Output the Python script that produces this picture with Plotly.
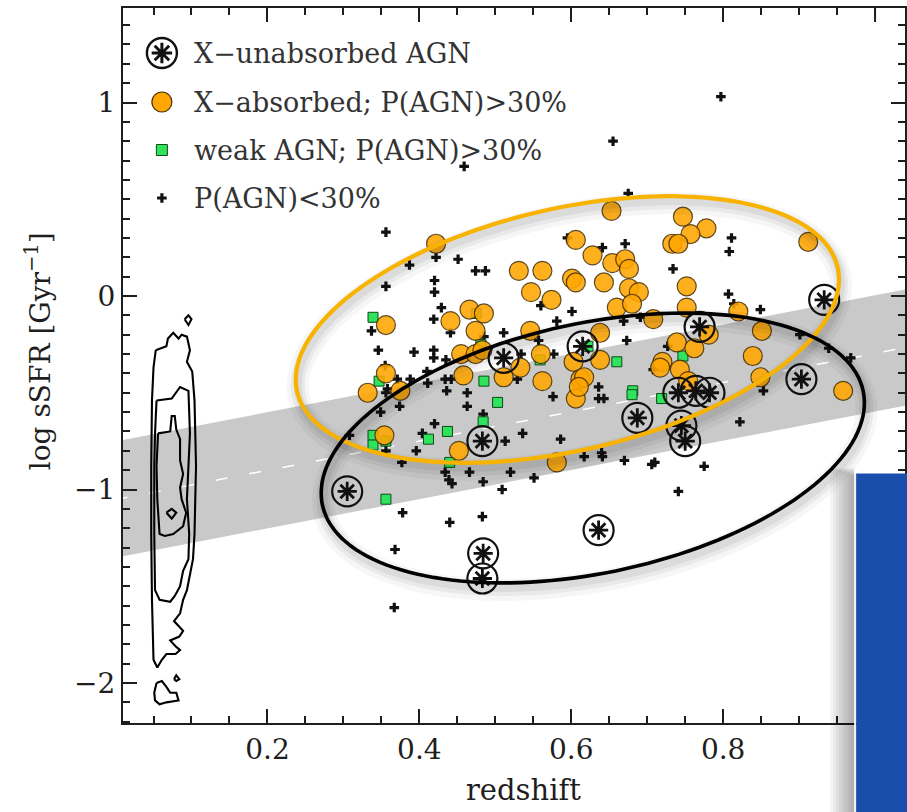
import numpy as np
import plotly.graph_objects as go

# ---------------- data ----------------
unabs_z = [0.933, 0.305, 0.484, 0.483, 0.636, 0.483, 0.511, 0.615, 0.769, 0.687,
           0.741, 0.764, 0.782, 0.745, 0.750, 0.903]
unabs_ssfr = [-0.02, -1.01, -1.33, -1.46, -1.21, -0.75, -0.32, -0.26, -0.16, -0.63,
              -0.50, -0.49, -0.50, -0.67, -0.75, -0.43]

abs_z = [0.422, 0.606, 0.628, 0.531, 0.562, 0.601, 0.606, 0.547, 0.574, 0.466,
         0.485, 0.441, 0.356, 0.474, 0.546, 0.455, 0.474, 0.483, 0.533, 0.511,
         0.562, 0.458, 0.603, 0.612, 0.606, 0.356, 0.332, 0.375, 0.560, 0.653,
         0.747, 0.778, 0.757, 0.733, 0.741, 0.912, 0.643, 0.654, 0.671, 0.676,
         0.676, 0.689, 0.752, 0.660, 0.680, 0.708, 0.752, 0.820, 0.851, 0.638,
         0.638, 0.739, 0.762, 0.781, 0.720, 0.717, 0.743, 0.839, 0.849, 0.958,
         0.617, 0.610, 0.354, 0.452, 0.581, 0.754]
abs_ssfr = [0.27, 0.29, 0.21, 0.13, 0.13, 0.09, 0.07, 0.02, -0.02, -0.07,
            -0.09, -0.13, -0.15, -0.18, -0.18, -0.30, -0.30, -0.28, -0.37, -0.42,
            -0.44, -0.41, -0.34, -0.43, -0.53, -0.40, -0.50, -0.49, -0.30, 0.44,
            0.41, 0.35, 0.32, 0.27, 0.27, 0.28, 0.07, 0.17, 0.19, 0.14,
            0.04, 0.02, 0.05, -0.06, -0.04, -0.12, -0.06, -0.08, -0.18, -0.19,
            -0.33, -0.24, -0.27, -0.20, -0.34, -0.37, -0.38, -0.31, -0.42, -0.49,
            -0.42, -0.47, -0.72, -0.80, -0.86, -0.44]

weak_z = [0.339, 0.475, 0.481, 0.559, 0.347, 0.485, 0.503, 0.484, 0.437, 0.660,
          0.747, 0.681, 0.680, 0.719, 0.412, 0.339, 0.339, 0.356, 0.440, 0.356, 0.622]
weak_ssfr = [-0.11, -0.09, -0.25, -0.33, -0.44, -0.44, -0.55, -0.65, -0.70, -0.34,
             -0.31, -0.49, -0.51, -0.53, -0.74, -0.72, -0.77, -0.75, -0.86, -1.05, -0.26]

low_z = [0.797, 0.655, 0.459, 0.675, 0.356, 0.422, 0.451, 0.387, 0.474, 0.487,
         0.420, 0.420, 0.356, 0.429, 0.419, 0.337, 0.441, 0.511, 0.595, 0.560,
         0.601, 0.581, 0.346, 0.393, 0.419, 0.419, 0.485, 0.534, 0.577, 0.355,
         0.410, 0.435, 0.434, 0.371, 0.442, 0.529, 0.358, 0.463, 0.576, 0.557,
         0.388, 0.411, 0.374, 0.436, 0.463, 0.420, 0.349, 0.673, 0.669, 0.636,
         0.636, 0.643, 0.727, 0.807, 0.811, 0.808, 0.734, 0.671, 0.641, 0.814,
         0.849, 0.691, 0.901, 0.939, 0.968, 0.708, 0.853, 0.356, 0.484, 0.404,
         0.396, 0.356, 0.377, 0.308, 0.434, 0.439, 0.443, 0.466, 0.484, 0.513,
         0.536, 0.586, 0.520, 0.509, 0.551, 0.617, 0.378, 0.440, 0.483, 0.368,
         0.367, 0.640, 0.641, 0.670, 0.706, 0.710, 0.775, 0.822, 0.741]
low_ssfr = [1.03, 0.80, 0.67, 0.53, 0.33, 0.20, 0.19, 0.16, 0.13, 0.13,
            0.08, 0.02, 0.05, -0.06, -0.12, -0.18, -0.19, -0.19, 0.30, -0.05,
            -0.08, -0.13, -0.28, -0.29, -0.28, -0.32, -0.21, -0.30, -0.30, -0.36,
            -0.39, -0.33, -0.43, -0.43, -0.43, -0.43, -0.48, -0.50, -0.52, -0.23,
            -0.43, -0.45, -0.57, -0.49, -0.57, -0.66, -0.60, -0.23, -0.13, -0.47,
            -0.53, -0.53, -0.26, 0.01, 0.30, 0.23, 0.14, 0.27, 0.25, -0.04,
            -0.07, -0.11, -0.20, -0.27, -0.32, -0.38, -0.49, -0.50, -0.61, -0.71,
            -0.80, -0.80, -0.86, -0.72, -0.91, -0.95, -0.97, -0.91, -0.96, -0.75,
            -0.71, -0.74, -0.91, -1.00, -0.94, -0.83, -1.12, -1.17, -1.14, -1.31,
            -1.61, -0.81, -0.83, -0.85, -0.87, -0.86, -0.88, -0.65, -1.01]

# main-sequence band (centre line and half width, dex)
ms_z = [0.0, 1.06]
ms_ssfr = [-1.052, -0.251]
ms_halfwidth = 0.30

# local-sample density contours (None separates closed curves)
contour_z = [0.053, 0.067, 0.069, 0.076, 0.083, 0.087, 0.094, 0.098, 0.094, 0.101, 0.104,
             0.105, 0.106, 0.105, 0.104, 0.102, 0.098, 0.094, 0.089, 0.085, 0.077, 0.089,
             0.084, 0.072, 0.079, 0.085, 0.079, 0.067, 0.061, 0.055, 0.050, 0.049, 0.048,
             0.047, 0.047, 0.048, 0.050, 0.053, None,
             0.054, 0.074, 0.085, 0.096, 0.098, 0.096, 0.094, 0.097, 0.096, 0.089, 0.085,
             0.078, 0.072, 0.058, 0.052, 0.051, 0.051, 0.052, 0.054, None,
             0.056, 0.072, 0.074, 0.078, 0.080, 0.085, 0.085, 0.089, 0.085, 0.087, 0.093,
             0.089, 0.076, 0.065, 0.058, 0.055, 0.054, 0.056, None,
             0.067, 0.074, 0.080, 0.074, 0.067, None,
             0.091, 0.096, 0.100, 0.096, 0.091, None,
             0.054, 0.061, 0.067, 0.072, 0.080, 0.083, 0.067, 0.058, 0.052, 0.051, 0.054, None,
             0.077, 0.080, 0.084, 0.080, 0.077]
contour_ssfr = [-0.28, -0.26, -0.22, -0.19, -0.22, -0.20, -0.21, -0.28, -0.34, -0.39, -0.54,
                -0.71, -0.88, -1.05, -1.23, -1.36, -1.45, -1.52, -1.57, -1.64, -1.68, -1.73,
                -1.76, -1.78, -1.81, -1.83, -1.85, -1.85, -1.88, -1.92, -1.88, -1.74, -1.57,
                -1.23, -0.88, -0.54, -0.37, -0.28, None,
                -0.54, -0.53, -0.47, -0.49, -0.71, -0.88, -1.05, -1.23, -1.36, -1.42, -1.50,
                -1.55, -1.58, -1.57, -1.52, -1.23, -0.88, -0.71, -0.54, None,
                -0.71, -0.70, -0.62, -0.62, -0.69, -0.74, -0.85, -0.92, -0.99, -1.05, -1.12,
                -1.19, -1.23, -1.24, -1.23, -1.05, -0.88, -0.71, None,
                -1.12, -1.10, -1.12, -1.15, -1.12, None,
                -0.12, -0.10, -0.12, -0.15, -0.12, None,
                -2.00, -1.99, -2.02, -2.05, -2.05, -2.09, -2.10, -2.11, -2.09, -2.05, -2.00, None,
                -1.98, -1.96, -1.98, -1.99, -1.98]

legend_labels = ["X\u2212unabsorbed AGN", "X\u2212absorbed; P(AGN)>30%",
                 "weak AGN; P(AGN)>30%", "P(AGN)<30%"]
x_tickvals = [0.2, 0.4, 0.6, 0.8]
x_ticktext = ["0.2", "0.4", "0.6", "0.8"]
x_extra_major = [1.0]          # major tick with no visible label (under the blue panel)
y_tickvals = [-2, -1, 0, 1]
y_ticktext = ["\u22122", "\u22121", "0", "1"]

# ---------------- layout geometry ----------------
W, H = 907, 812
ML, MR, MT, MB = 123, 0, 8, 89
PX0, PX1, PY0, PY1 = ML, W - MR, MT, H - MB     # plot area in pixels
XRANGE = [0.00985, 1.0394]
YRANGE = [-2.2067, 1.4884]
FONT = "DejaVu Serif"
INK = "#1e1e1e"

fig = go.Figure()

# main-sequence band
up = [c + ms_halfwidth for c in ms_ssfr]
lo = [c - ms_halfwidth for c in ms_ssfr]
fig.add_trace(go.Scatter(x=ms_z + ms_z[::-1], y=up + lo[::-1], fill="toself",
                         fillcolor="#c9c9c9", line=dict(width=0), mode="lines",
                         hoverinfo="skip", showlegend=False))
fig.add_trace(go.Scatter(x=ms_z, y=ms_ssfr, mode="lines",
                         line=dict(color="white", width=1.5, dash="12px,22px"),
                         hoverinfo="skip", showlegend=False))
# contours
fig.add_trace(go.Scatter(x=contour_z, y=contour_ssfr, mode="lines",
                         line=dict(color="black", width=2.1), connectgaps=False,
                         hoverinfo="skip", showlegend=False))
# P(AGN)<30%
fig.add_trace(go.Scatter(x=low_z, y=low_ssfr, mode="markers",
                         marker=dict(symbol="cross", size=8, color="#111",
                                     line=dict(width=0)),
                         showlegend=False))
# weak AGN
fig.add_trace(go.Scatter(x=weak_z, y=weak_ssfr, mode="markers",
                         marker=dict(symbol="square", size=10, color="#2fe35c",
                                     line=dict(color="#0c4a18", width=1)),
                         showlegend=False))
# X-absorbed
fig.add_trace(go.Scatter(x=abs_z, y=abs_ssfr, mode="markers",
                         marker=dict(symbol="circle", size=19, color="#ffa600",
                                     opacity=0.88,
                                     line=dict(color="#4a3000", width=1.2)),
                         showlegend=False))
# X-unabsorbed
fig.add_trace(go.Scatter(x=unabs_z, y=unabs_ssfr, mode="markers",
                         marker=dict(symbol="circle-open", size=30, color="#111",
                                     line=dict(width=2.2)),
                         showlegend=False))
fig.add_trace(go.Scatter(x=unabs_z, y=unabs_ssfr, mode="markers",
                         marker=dict(symbol="asterisk-open", size=16, color="#111",
                                     line=dict(width=2.8)),
                         showlegend=False))

# ---------------- manual legend on a pixel overlay ----------------
leg_x, leg_tx = 162, 192
leg_y = [53, 102, 150, 198]
fig.add_trace(go.Scatter(x=[leg_x], y=[leg_y[0]], xaxis="x2", yaxis="y2", mode="markers",
                         marker=dict(symbol="circle-open", size=30, color="#111", line=dict(width=2.4)),
                         showlegend=False, hoverinfo="skip"))
fig.add_trace(go.Scatter(x=[leg_x], y=[leg_y[0]], xaxis="x2", yaxis="y2", mode="markers",
                         marker=dict(symbol="asterisk-open", size=17, color="#111", line=dict(width=3)),
                         showlegend=False, hoverinfo="skip"))
fig.add_trace(go.Scatter(x=[leg_x], y=[leg_y[1]], xaxis="x2", yaxis="y2", mode="markers",
                         marker=dict(symbol="circle", size=20, color="#ffa600",
                                     line=dict(color="#4a3000", width=1.2)),
                         showlegend=False, hoverinfo="skip"))
fig.add_trace(go.Scatter(x=[leg_x], y=[leg_y[2]], xaxis="x2", yaxis="y2", mode="markers",
                         marker=dict(symbol="square", size=11, color="#2fe35c",
                                     line=dict(color="#0c4a18", width=1)),
                         showlegend=False, hoverinfo="skip"))
fig.add_trace(go.Scatter(x=[leg_x], y=[leg_y[3]], xaxis="x2", yaxis="y2", mode="markers",
                         marker=dict(symbol="cross", size=8, color="#111", line=dict(width=0)),
                         showlegend=False, hoverinfo="skip"))

annotations = []
for lab, yy in zip(legend_labels, leg_y):
    annotations.append(dict(x=leg_tx, y=yy, xref="x2", yref="y2", text=lab,
                            showarrow=False, xanchor="left", yanchor="middle",
                            font=dict(family=FONT, size=27, color="#333")))

def px_x(p):
    return (p - PX0) / (PX1 - PX0)

def px_y(p):
    return (PY1 - p) / (PY1 - PY0)

annotations.append(dict(x=px_x(525), y=px_y(790), xref="paper", yref="paper",
                        text="redshift", showarrow=False, xanchor="center", yanchor="middle",
                        font=dict(family=FONT, size=29, color=INK)))
annotations.append(dict(x=px_x(38), y=px_y(351), xref="paper", yref="paper",
                        text="log sSFR [Gyr<sup>\u22121</sup>]", showarrow=False,
                        textangle=-90, xanchor="center", yanchor="middle",
                        font=dict(family=FONT, size=28, color=INK)))

# ---------------- ellipses (pixel overlay) ----------------
def ellipse_path(cx, cy, a, b, ang, n=160):
    t = np.linspace(0, 2 * np.pi, n)
    th = np.radians(ang)
    xs = cx + a * np.cos(t) * np.cos(th) - b * np.sin(t) * np.sin(th)
    ys = cy - (a * np.cos(t) * np.sin(th) + b * np.sin(t) * np.cos(th))
    return "M " + " L ".join(f"{x:.1f},{y:.1f}" for x, y in zip(xs, ys)) + " Z"

ellipses = [  # cx, cy, a, b, angle, colour, width
    (568.5, 329.5, 278, 121, 12.9, "#f8b200", 4.2),
    (594.0, 448.0, 277, 125, 11.85, "#000000", 3.6),
]
shapes = []
# extra major ticks (bottom and top) at z = 1.0
for xv in x_extra_major:
    shapes.append(dict(type="line", xref="x", yref="paper", x0=xv, x1=xv,
                       y0=0, y1=14 / (PY1 - PY0), line=dict(color=INK, width=2)))
    shapes.append(dict(type="line", xref="x", yref="paper", x0=xv, x1=xv,
                       y0=1 - 14 / (PY1 - PY0), y1=1, line=dict(color=INK, width=2)))
for cx, cy, a, b, ang, col, lw in ellipses:
    for off, sw, op in [(7, 22, 0.035), (6, 14, 0.05), (5, 8, 0.06)]:
        shapes.append(dict(type="path", xref="x2", yref="y2",
                           path=ellipse_path(cx + 2, cy + off, a, b, ang),
                           line=dict(color=f"rgba(0,0,0,{op})", width=sw), layer="above"))
for cx, cy, a, b, ang, col, lw in ellipses:
    shapes.append(dict(type="path", xref="x2", yref="y2", path=ellipse_path(cx, cy, a, b, ang),
                       line=dict(color=col, width=lw), layer="above"))

# blue panel with soft shadow (lower right corner)
for k in range(8):
    shapes.append(dict(type="rect", xref="paper", yref="paper",
                       x0=px_x(832 + 3 * k), x1=px_x(856), y0=px_y(830), y1=px_y(468 + k),
                       fillcolor="rgba(0,0,0,0.045)", line=dict(width=0), layer="above"))
shapes.append(dict(type="rect", xref="paper", yref="paper",
                   x0=px_x(856), x1=px_x(858), y0=px_y(830), y1=px_y(473.5),
                   fillcolor="#f2f2f2", line=dict(width=0), layer="above"))
shapes.append(dict(type="rect", xref="paper", yref="paper",
                   x0=px_x(858), x1=px_x(930), y0=px_y(830), y1=px_y(473.5),
                   fillcolor="#1a4ead", line=dict(width=0), layer="above"))

axis_common = dict(showline=True, linewidth=2.2, linecolor=INK, mirror="ticks",
                   ticks="inside", ticklen=14, tickwidth=2, tickcolor=INK,
                   showgrid=False, zeroline=False,
                   tickfont=dict(family=FONT, size=28, color=INK))

fig.update_layout(
    width=W, height=H,
    margin=dict(l=ML, r=MR, t=MT, b=MB, pad=0),
    paper_bgcolor="white", plot_bgcolor="white",
    showlegend=False,
    xaxis=dict(range=XRANGE, tickvals=x_tickvals, ticktext=x_ticktext,
               minor=dict(ticks="inside", ticklen=7, tickwidth=1.6, tickcolor=INK, dtick=0.05,
                          tick0=0, showgrid=False),
               **axis_common),
    yaxis=dict(range=YRANGE, tickvals=y_tickvals, ticktext=y_ticktext,
               minor=dict(ticks="inside", ticklen=7, tickwidth=1.6, tickcolor=INK, dtick=0.1,
                          tick0=0, showgrid=False),
               **axis_common),
    xaxis2=dict(range=[PX0, PX1], overlaying="x", visible=False, anchor="y2"),
    yaxis2=dict(range=[PY1, PY0], overlaying="y", visible=False, anchor="x2"),
    shapes=shapes,
    annotations=annotations,
)

fig.write_html("out.html")
